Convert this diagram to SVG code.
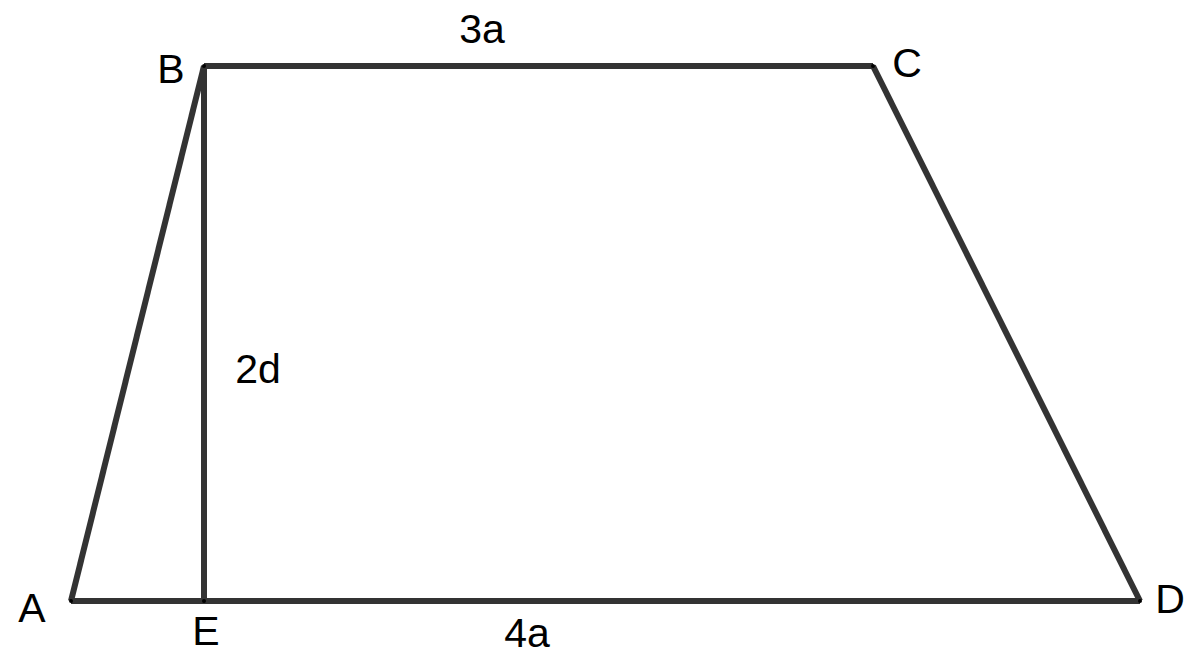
<svg xmlns="http://www.w3.org/2000/svg" width="1200" height="663" viewBox="0 0 1200 663">
<style>
.edge{stroke:#333;stroke-width:6;fill:none;stroke-linecap:butt;stroke-linejoin:round}
.pt{fill:#000}
.lbl{font-family:"Liberation Sans",Arial,sans-serif;font-size:41px;fill:#000;text-anchor:middle}
</style>
<rect width="1200" height="663" fill="#fff"/>
<g id="connectors">
<line class="edge" x1="71" y1="601" x2="204" y2="66"/>
<line class="edge" x1="204" y1="66" x2="873" y2="66"/>
<line class="edge" x1="873" y1="66" x2="1140" y2="601"/>
<line class="edge" x1="71" y1="601" x2="1140" y2="601"/>
<line class="edge" x1="204" y1="66" x2="204" y2="601"/>
</g>
<g id="A"><circle class="pt" cx="71" cy="601" r="2"/><text class="lbl" x="32" y="622">A</text></g>
<g id="B"><circle class="pt" cx="204" cy="66" r="2"/><text class="lbl" x="171" y="83">B</text></g>
<g id="C"><circle class="pt" cx="873" cy="66" r="2"/><text class="lbl" x="907" y="77">C</text></g>
<g id="D"><circle class="pt" cx="1140" cy="601" r="2"/><text class="lbl" x="1170" y="613">D</text></g>
<g id="E"><circle class="pt" cx="204" cy="601" r="2"/><text class="lbl" x="206" y="645">E</text></g>
<g id="labels">
<text class="lbl" x="482" y="43">3a</text>
<text class="lbl" x="258" y="383">2d</text>
<text class="lbl" x="527" y="647">4a</text>
</g>
</svg>
